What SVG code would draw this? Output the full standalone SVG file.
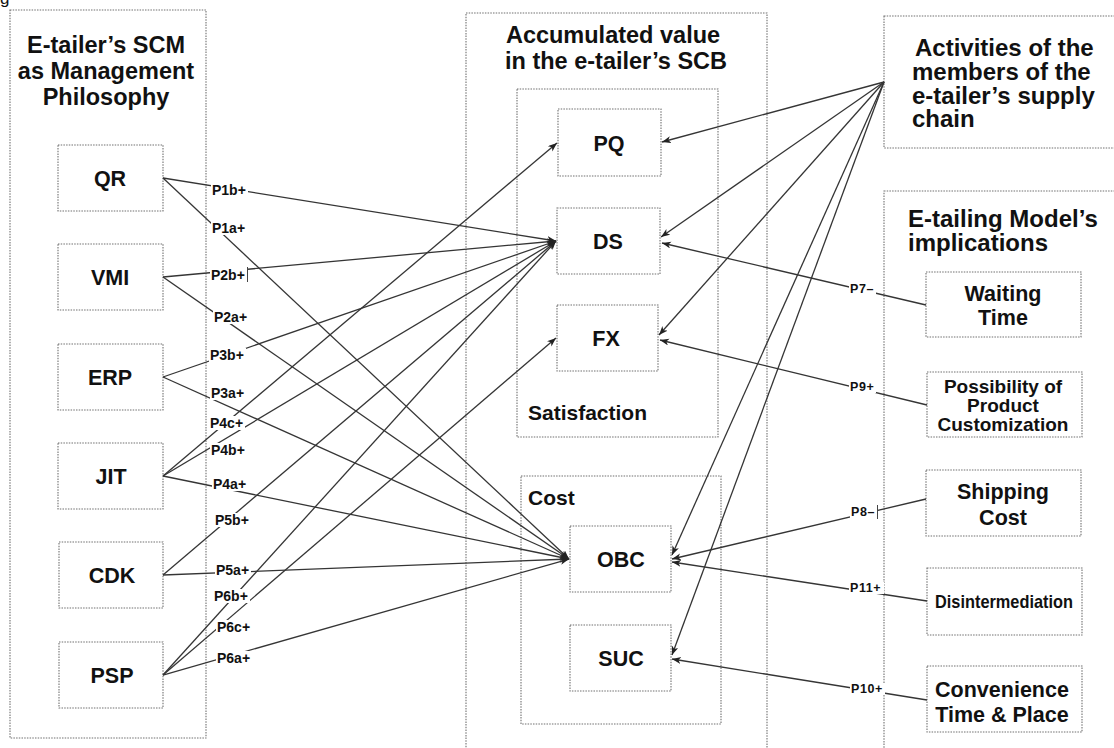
<svg xmlns="http://www.w3.org/2000/svg" width="1114" height="748" viewBox="0 0 1114 748">
  <defs>
    <style>
      .frame{fill:none;stroke:#707070;stroke-width:1.1;stroke-dasharray:1.5 1.2}
      .box{fill:none;stroke:#707070;stroke-width:1.1;stroke-dasharray:1.5 1.2}
      .t{font-family:"Liberation Sans",Arial,Helvetica,sans-serif;font-weight:bold;fill:#111}
      .title{font-size:23.5px}
      .head{font-size:24px}
      .nl{font-size:21.5px;text-anchor:middle}
      .sub{font-size:21px}
      .lbl{font-size:14px}
      .rl{font-size:12.5px;letter-spacing:0.6px}
      .c{fill:none;stroke:#353535;stroke-width:1.3;marker-end:url(#ah)}
      .bg{fill:#fff}
      .tick{stroke:#444;stroke-width:1}
    </style>
    <marker id="ah" markerUnits="userSpaceOnUse" markerWidth="10" markerHeight="8" refX="9" refY="3.5" orient="auto">
      <path d="M0,0 L9,3.5 L0,7 L2.5,3.5 Z" fill="#222"/>
    </marker>
  </defs>

  <rect width="1114" height="748" fill="#fff"/>

  <!-- caption fragment at the top edge -->
  <text class="t" x="0" y="4" style="font-size:17px;font-weight:normal">g</text>

  <!-- column frames -->
  <g id="frame-scm">
    <rect class="frame" x="10" y="10" width="196" height="728"/>
    <text class="t title" text-anchor="middle" x="106" y="52.5">E-tailer’s SCM</text>
    <text class="t title" text-anchor="middle" x="106" y="79">as Management</text>
    <text class="t title" text-anchor="middle" x="106" y="105">Philosophy</text>
  </g>

  <g id="frame-value">
    <rect class="frame" x="466" y="13" width="301" height="760"/>
    <text class="t title" text-anchor="middle" x="613" y="42.5">Accumulated value</text>
    <text class="t title" text-anchor="middle" x="616" y="68.5">in the e-tailer’s SCB</text>
  </g>

  <g id="frame-satisfaction">
    <rect class="frame" x="517" y="89" width="201" height="348"/>
    <text class="t sub" x="528" y="420">Satisfaction</text>
  </g>

  <g id="frame-cost">
    <rect class="frame" x="521" y="476" width="200" height="248"/>
    <text class="t sub" x="528" y="505">Cost</text>
  </g>

  <g id="frame-activities">
    <rect class="frame" x="884" y="16" width="240" height="132"/>
    <text class="t head" x="915" y="56">Activities of the</text>
    <text class="t head" x="912" y="80">members of the</text>
    <text class="t head" x="912" y="104">e-tailer’s supply</text>
    <text class="t head" x="912" y="127">chain</text>
  </g>

  <g id="frame-etailing">
    <rect class="frame" x="884" y="191" width="240" height="600"/>
    <text class="t head" x="908" y="227">E-tailing Model’s</text>
    <text class="t head" x="908" y="251">implications</text>
  </g>

  <!-- SCM practices -->
  <g id="node-qr"><rect class="box" x="58" y="145" width="105" height="66"/><text class="t nl" x="110" y="185.7">QR</text></g>
  <g id="node-vmi"><rect class="box" x="58" y="244" width="105" height="66"/><text class="t nl" x="110" y="284.7">VMI</text></g>
  <g id="node-erp"><rect class="box" x="58" y="344" width="105" height="66"/><text class="t nl" x="110" y="384.7">ERP</text></g>
  <g id="node-jit"><rect class="box" x="58" y="443" width="105" height="66"/><text class="t nl" x="111" y="483.7">JIT</text></g>
  <g id="node-cdk"><rect class="box" x="59" y="542" width="104" height="66"/><text class="t nl" x="112" y="582.7">CDK</text></g>
  <g id="node-psp"><rect class="box" x="59" y="642" width="104" height="66"/><text class="t nl" x="112" y="682.7">PSP</text></g>

  <!-- value components -->
  <g id="node-pq"><rect class="box" x="558" y="109" width="103" height="67"/><text class="t nl" x="609" y="150.5">PQ</text></g>
  <g id="node-ds"><rect class="box" x="557" y="208" width="103" height="66"/><text class="t nl" x="608" y="248.7">DS</text></g>
  <g id="node-fx"><rect class="box" x="557" y="305" width="101" height="66"/><text class="t nl" x="606" y="345.7">FX</text></g>
  <g id="node-obc"><rect class="box" x="570" y="526" width="101" height="66"/><text class="t nl" x="621" y="566.7">OBC</text></g>
  <g id="node-suc"><rect class="box" x="570" y="625" width="101" height="66"/><text class="t nl" x="621" y="665.7">SUC</text></g>

  <!-- e-tailing implications -->
  <g id="node-waiting">
    <rect class="box" x="926" y="272" width="155" height="65"/>
    <text class="t nl" x="1003" y="301">Waiting</text>
    <text class="t nl" x="1003" y="325">Time</text>
  </g>
  <g id="node-customization">
    <rect class="box" x="927" y="372" width="155" height="65"/>
    <text class="t" text-anchor="middle" style="font-size:19px" x="1003" y="393">Possibility of</text>
    <text class="t" text-anchor="middle" style="font-size:19px" x="1003" y="412">Product</text>
    <text class="t" text-anchor="middle" style="font-size:19px" x="1003" y="431">Customization</text>
  </g>
  <g id="node-shipping">
    <rect class="box" x="926" y="470" width="155" height="66"/>
    <text class="t nl" x="1003" y="499">Shipping</text>
    <text class="t nl" x="1003" y="525">Cost</text>
  </g>
  <g id="node-disintermediation">
    <rect class="box" x="927" y="568" width="155" height="67"/>
    <text class="t" text-anchor="middle" style="font-size:18.5px" x="1004" y="608" textLength="138" lengthAdjust="spacingAndGlyphs">Disintermediation</text>
  </g>
  <g id="node-convenience">
    <rect class="box" x="927" y="666" width="155" height="66"/>
    <text class="t nl" x="1002" y="697">Convenience</text>
    <text class="t nl" x="1002" y="722">Time &amp; Place</text>
  </g>

  <!-- connectors -->
  <g id="connectors">
    <line class="c" x1="163" y1="178" x2="556" y2="241"/>
    <line class="c" x1="163" y1="178" x2="569" y2="559"/>
    <line class="c" x1="163" y1="277" x2="556" y2="241"/>
    <line class="c" x1="163" y1="277" x2="569" y2="559"/>
    <line class="c" x1="163" y1="377" x2="556" y2="241"/>
    <line class="c" x1="163" y1="377" x2="569" y2="559"/>
    <line class="c" x1="163" y1="476" x2="557" y2="143"/>
    <line class="c" x1="163" y1="476" x2="556" y2="241"/>
    <line class="c" x1="163" y1="476" x2="569" y2="559"/>
    <line class="c" x1="163" y1="575" x2="556" y2="241"/>
    <line class="c" x1="163" y1="575" x2="569" y2="559"/>
    <line class="c" x1="163" y1="675" x2="556" y2="241"/>
    <line class="c" x1="163" y1="675" x2="556" y2="338"/>
    <line class="c" x1="163" y1="675" x2="569" y2="559"/>

    <line class="c" x1="884" y1="82" x2="662" y2="142"/>
    <line class="c" x1="884" y1="82" x2="661" y2="237"/>
    <line class="c" x1="884" y1="82" x2="659" y2="335"/>
    <line class="c" x1="884" y1="82" x2="672" y2="555"/>
    <line class="c" x1="884" y1="82" x2="672" y2="655"/>

    <line class="c" x1="926" y1="305" x2="662" y2="243"/>
    <line class="c" x1="927" y1="405" x2="660" y2="340"/>
    <line class="c" x1="926" y1="499" x2="672" y2="559"/>
    <line class="c" x1="927" y1="601" x2="672" y2="562"/>
    <line class="c" x1="927" y1="700" x2="672" y2="659"/>
  </g>

  <!-- proposition labels -->
  <g id="connector-labels">
    <rect class="bg" x="211" y="183" width="37" height="14"/><text class="t lbl" x="212" y="195">P1b+</text>
    <rect class="bg" x="211" y="221" width="36" height="14"/><text class="t lbl" x="212" y="233">P1a+</text>
    <rect class="bg" x="210" y="268" width="37" height="14"/><text class="t lbl" x="211" y="280">P2b+</text>
    <rect class="bg" x="213" y="310" width="36" height="14"/><text class="t lbl" x="214" y="322">P2a+</text>
    <rect class="bg" x="209" y="348" width="37" height="14"/><text class="t lbl" x="210" y="360">P3b+</text>
    <rect class="bg" x="210" y="386" width="36" height="14"/><text class="t lbl" x="211" y="398">P3a+</text>
    <rect class="bg" x="209" y="416" width="36" height="14"/><text class="t lbl" x="210" y="428">P4c+</text>
    <rect class="bg" x="210" y="443" width="37" height="14"/><text class="t lbl" x="211" y="455">P4b+</text>
    <rect class="bg" x="212" y="477" width="36" height="14"/><text class="t lbl" x="213" y="489">P4a+</text>
    <rect class="bg" x="214" y="513" width="37" height="14"/><text class="t lbl" x="215" y="525">P5b+</text>
    <rect class="bg" x="215" y="563" width="36" height="14"/><text class="t lbl" x="216" y="575">P5a+</text>
    <rect class="bg" x="213" y="589" width="37" height="14"/><text class="t lbl" x="214" y="601">P6b+</text>
    <rect class="bg" x="216" y="620" width="36" height="14"/><text class="t lbl" x="217" y="632">P6c+</text>
    <rect class="bg" x="216" y="651" width="36" height="14"/><text class="t lbl" x="217" y="663">P6a+</text>
    <line class="tick" x1="247.5" y1="267" x2="247.5" y2="282"/>

    <rect class="bg" x="849" y="283" width="27" height="12"/><text class="t rl" x="850" y="293">P7–</text>
    <rect class="bg" x="849" y="381" width="27" height="12"/><text class="t rl" x="850" y="391">P9+</text>
    <rect class="bg" x="850" y="506" width="27" height="12"/><text class="t rl" x="851" y="516">P8–</text>
    <rect class="bg" x="849" y="582" width="35" height="12"/><text class="t rl" x="850" y="592">P11+</text>
    <rect class="bg" x="850" y="683" width="35" height="12"/><text class="t rl" x="851" y="693">P10+</text>
    <line class="tick" x1="877.5" y1="505" x2="877.5" y2="519"/>
  </g>
</svg>
